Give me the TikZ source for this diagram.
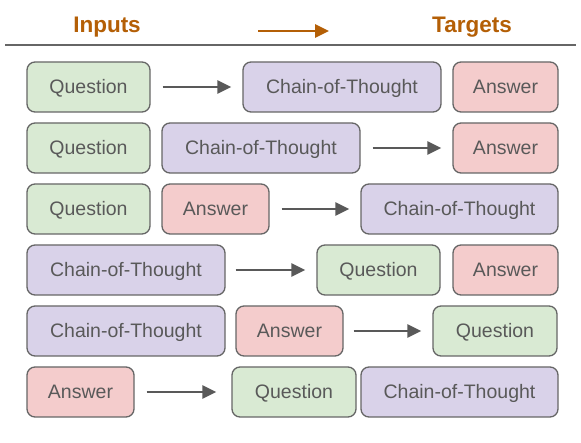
\documentclass[tikz,border=0pt]{standalone}
\usepackage{fontspec}
\setmainfont{Liberation Sans}
\usetikzlibrary{arrows.meta}
\definecolor{qfill}{HTML}{D9EAD3}
\definecolor{cfill}{HTML}{D9D2E9}
\definecolor{afill}{HTML}{F4CCCC}
\definecolor{edge}{HTML}{666666}
\definecolor{txt}{HTML}{595959}
\definecolor{hdr}{HTML}{B45F06}
\begin{document}
\begin{tikzpicture}[x=1pt,y=-1pt,
  box/.style={draw=edge,line width=1.3pt,rounded corners=8pt,minimum height=50pt,inner sep=0pt,
    text height=14pt,text depth=0pt,
    text=txt,font=\fontsize{19.5}{22}\selectfont},
  qbox/.style={box,fill=qfill,minimum width=123pt},
  cbox/.style={box,fill=cfill,minimum width=198pt},
  abox/.style={box,fill=afill,minimum width=107pt},
  flow/.style={draw=txt,line width=2.8pt,-{Triangle[length=14pt,width=13pt]},shorten <=12pt,shorten >=11pt},
  head/.style={text=hdr,font=\fontsize{22.5}{26}\selectfont\bfseries}
]
\useasboundingbox (0,0) rectangle (581,443);
% header
\node[head] (inp) at (107,27) {Inputs};
\node[head] (tgt) at (472,27) {Targets};
\coordinate (ha) at (258,31);
\coordinate (hb) at (329,31);
\draw[draw=hdr,line width=2.8pt,-{Triangle[length=14pt,width=13pt]}] (ha) -- (hb);
\coordinate (la) at (5,45);
\coordinate (lb) at (576,45);
\draw[draw=edge,line width=1.2pt] (la) -- (lb);
% row 1
\node[qbox] (q1) at (88.5,87) {Question};
\node[cbox] (c1) at (342,87) {Chain-of-Thought};
\node[abox,minimum width=105pt] (a1) at (505.5,87) {Answer};
\draw[flow] (q1) -- (c1);
% row 2
\node[qbox] (q2) at (88.5,148) {Question};
\node[cbox] (c2) at (261,148) {Chain-of-Thought};
\node[abox,minimum width=105pt] (a2) at (505.5,148) {Answer};
\draw[flow] (c2) -- (a2);
% row 3
\node[qbox] (q3) at (88.5,209) {Question};
\node[abox] (a3) at (215.5,209) {Answer};
\node[cbox,minimum width=197pt] (c3) at (459.5,209) {Chain-of-Thought};
\draw[flow] (a3) -- (c3);
% row 4
\node[cbox] (c4) at (126,270) {Chain-of-Thought};
\node[qbox] (q4) at (378.5,270) {Question};
\node[abox,minimum width=105pt] (a4) at (505.5,270) {Answer};
\draw[flow,shorten <=10pt] (c4) -- (q4);
% row 5
\node[cbox] (c5) at (126,331) {Chain-of-Thought};
\node[abox] (a5) at (289.5,331) {Answer};
\node[qbox,minimum width=124pt] (q5) at (495,331) {Question};
\draw[flow,shorten <=10pt] (a5) -- (q5);
% row 6
\node[abox] (a6) at (80.5,392) {Answer};
\node[qbox,minimum width=124pt] (q6) at (294,392) {Question};
\node[cbox,minimum width=197pt] (c6) at (459.5,392) {Chain-of-Thought};
\draw[flow,shorten >=15pt] (a6) -- (q6);
\end{tikzpicture}
\end{document}
